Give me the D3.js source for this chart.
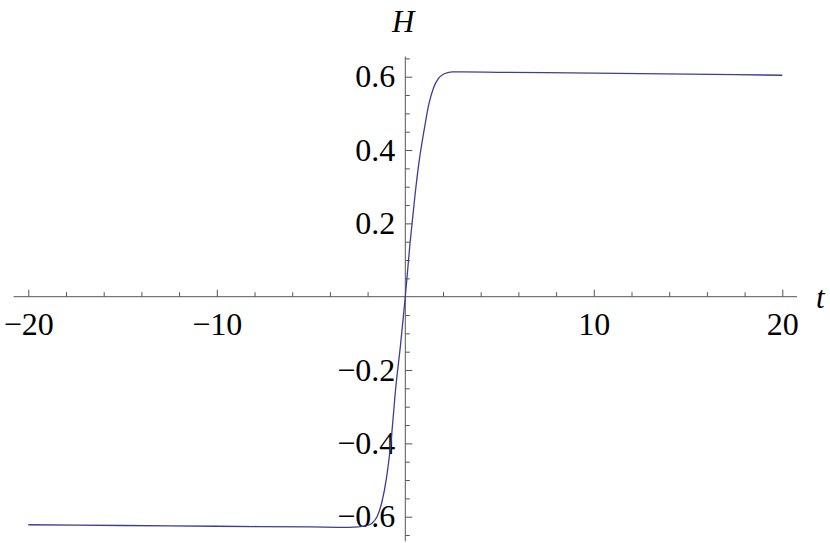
<!DOCTYPE html>
<html>
<head>
<meta charset="utf-8">
<script src="https://cdn.jsdelivr.net/npm/d3@7"></script>
<style>
  body { margin: 0; background: #fff; }
  svg { display: block; }
  .axis path, .axis line { stroke: #555; }
  .axis text { font-family: "Liberation Serif", "Times New Roman", serif; font-size: 32px; fill: #000; }
  .lbl { font-family: "Liberation Serif", "Times New Roman", serif; font-size: 31px; font-style: italic; }
</style>
</head>
<body>
<div id="chart"></div>
<script>
// H(t)
const tVals = [-20, -15, -10, -5, -3, -2.5, -2, -1.75, -1.5, -1.25, -1, -0.75, -0.5, -0.25,
               0, 0.25, 0.5, 0.75, 1, 1.25, 1.5, 1.75, 2, 2.25, 2.5, 3, 5, 10, 15, 20];
const hVals = [-0.622, -0.624, -0.626, -0.628, -0.629, -0.628, -0.624, -0.617, -0.600, -0.562, -0.495, -0.39, -0.245, -0.13,
               0, 0.145, 0.27, 0.375, 0.455, 0.525, 0.57, 0.595, 0.606, 0.611, 0.613, 0.613, 0.612, 0.610, 0.607, 0.604];

const xMajor = [-20, -10, 10, 20];
const xMinor = [-18, -16, -14, -12, -8, -6, -4, -2, 2, 4, 6, 8, 12, 14, 16, 18];
const yMajor = [-0.6, -0.4, -0.2, 0.2, 0.4, 0.6];
const yMinor = [-0.65, -0.55, -0.5, -0.45, -0.35, -0.3, -0.25, -0.15, -0.1, -0.05,
                0.05, 0.1, 0.15, 0.25, 0.3, 0.35, 0.45, 0.5, 0.55, 0.65];

const width = 830, height = 543;

const svg = d3.select("#chart")
    .append("svg")
    .attr("width", width)
    .attr("height", height);

const x = d3.scaleLinear()
    .domain([-20, 20])
    .range([28.3, 782.3]);

const y = d3.scaleLinear()
    .domain([-0.6, 0.6])
    .range([516.7, 76.7]);

const fmt = d => d3.format(".1f")(d).replace("-", "\u2212");
const fmtX = d => String(d).replace("-", "\u2212");

// x axis (ticks point up, labels below)
const xAxis = svg.append("g")
    .attr("class", "axis")
    .attr("transform", "translate(0," + y(0) + ")");

xAxis.append("line")
    .attr("x1", x(-20.78))
    .attr("x2", x(20.78))
    .attr("stroke-width", 1);

xAxis.append("g")
    .call(d3.axisBottom(x).tickValues(xMinor).tickSize(-4.5).tickFormat(""))
    .call(g => g.select(".domain").remove());

xAxis.append("g")
    .call(d3.axisBottom(x).tickValues(xMajor).tickSize(-7).tickPadding(16).tickFormat(fmtX))
    .call(g => g.select(".domain").remove());

// y axis (ticks point right, labels left)
const yAxis = svg.append("g")
    .attr("class", "axis")
    .attr("transform", "translate(" + x(0) + ",0)");

yAxis.append("line")
    .attr("y1", y(0.655))
    .attr("y2", y(-0.667))
    .attr("stroke-width", 1);

yAxis.append("g")
    .call(d3.axisLeft(y).tickValues(yMinor).tickSize(-4.5).tickFormat(""))
    .call(g => g.select(".domain").remove());

yAxis.append("g")
    .call(d3.axisLeft(y).tickValues(yMajor).tickSize(-7).tickPadding(10).tickFormat(fmt))
    .call(g => g.select(".domain").remove());

// axis labels
svg.append("text")
    .attr("class", "lbl")
    .attr("x", x(0) - 2)
    .attr("y", 32)
    .attr("text-anchor", "middle")
    .text("H");

svg.append("text")
    .attr("class", "lbl")
    .attr("x", 816)
    .attr("y", 308)
    .text("t");

// curve
const pts = tVals.map((t, i) => [t, hVals[i]]);

svg.append("path")
    .datum(pts)
    .attr("fill", "none")
    .attr("stroke", "#3d3d99")
    .attr("stroke-width", 1.3)
    .attr("d", d3.line()
        .x(d => x(d[0]))
        .y(d => y(d[1]))
        .curve(d3.curveMonotoneX));
</script>
</body>
</html>
